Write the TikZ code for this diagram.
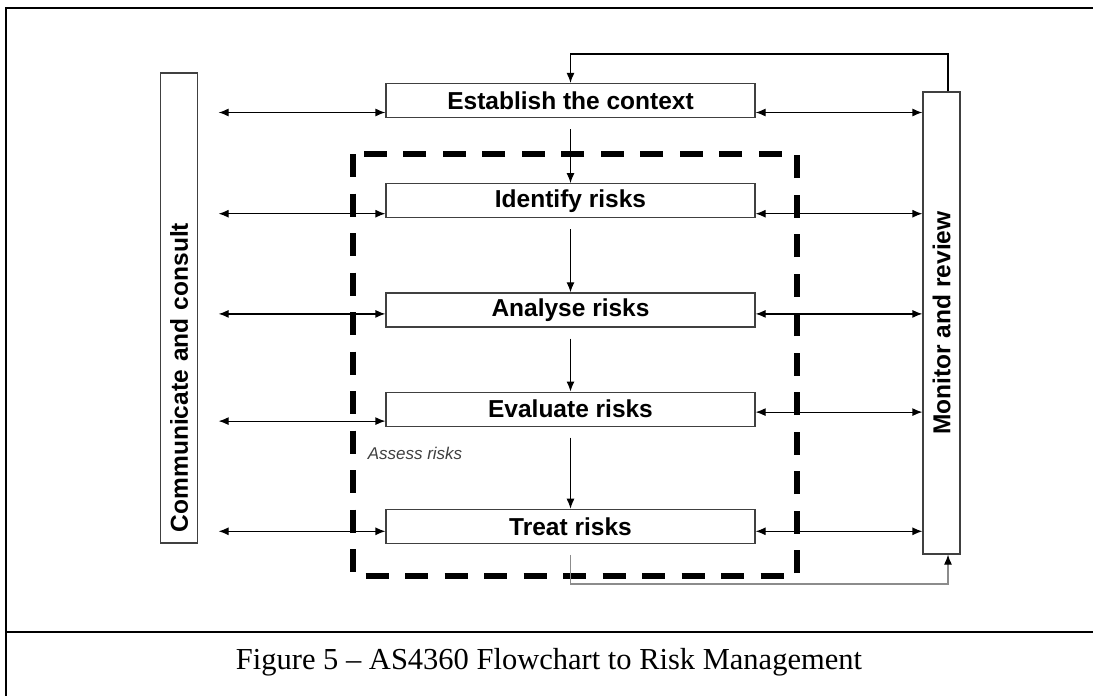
\documentclass[tikz,border=0pt]{standalone}
\usepackage{fontspec}
\setmainfont{Liberation Serif}
\setsansfont{Liberation Sans}
\usepackage{tikz}
\usetikzlibrary{positioning, arrows.meta}
\tikzstyle{stage} = [rectangle, minimum width=369pt, minimum height=34pt, inner sep=0pt, text centered, draw=black!75, line width=1.2pt, font=\sffamily\bfseries\fontsize{24.5}{29}\selectfont]
\tikzstyle{sidebar} = [rectangle, rotate=90, minimum height=37pt, draw=black!75, line width=1.2pt, font=\sffamily\bfseries\fontsize{24.5}{29}\selectfont]
\tikzstyle{arrow} = [line width=1.2pt, -{Latex[length=10pt,width=8pt]}]
\tikzstyle{darrow} = [line width=1.2pt, {Latex[length=10pt,width=8pt]}-{Latex[length=10pt,width=8pt]}]
\tikzstyle{backarrow} = [line width=1.2pt, draw=black!45, -{Latex[length=10pt,width=8pt,black]}]

\begin{document}
\begin{tikzpicture}[x=1pt, y=-1pt]
\useasboundingbox (0,0) rectangle (1093,696);
\draw [line width=1.8pt] (1093,8) -- (6,8) -- (6,696);
\draw [line width=1.8pt] (6,632) -- (1093,632);
\node (est) [stage] at (570.5,100.5) {Establish the context};
\node (ident) [stage, below=65pt of est] {Identify risks};
\node (anal) [stage, below=74pt of ident] {Analyse risks};
\node (eval) [stage, below=64pt of anal] {Evaluate risks};
\node (treat) [stage, below=82pt of eval] {Treat risks};
\node (comm) [sidebar, minimum width=470pt, text width=448pt, inner xsep=11pt, align=left] at (179,308) {Communicate and consult};
\node (mon) [sidebar, minimum width=462pt] at (941.5,323) {Monitor and review};
\draw [line width=5.5pt, dash pattern=on 23pt off 16.5pt] (353,154) rectangle (797,576);
\node (assess) [font=\sffamily\itshape\fontsize{17}{20}\selectfont, text=black!75] at (415,453) {Assess risks};
\node (caption) [anchor=base, font=\fontsize{30.5}{36}\selectfont] at (549,669) {Figure 5 – AS4360 Flowchart to Risk Management};
\coordinate (fbtop) at (570.5,54);
\coordinate (fbbot) at (570.5,584);
\draw [arrow] ([xshift=6.5pt]mon.east) |- (fbtop) -- (est);
\draw [arrow, shorten <=11pt] (est) -- (ident);
\draw [arrow, shorten <=11pt] (ident) -- (anal);
\draw [arrow, shorten <=11pt] (anal) -- (eval);
\draw [arrow, shorten <=11pt] (eval) -- (treat);
\draw [backarrow, shorten <=11pt] (treat) -- (fbbot) -| ([xshift=6.5pt]mon.west);
\foreach \b/\dl/\dr in {est/12/12, ident/13/13, anal/4/4, eval/12/3, treat/5/5} {
  \coordinate (lft) at ([yshift=-\dl pt]\b.west);
  \coordinate (rgt) at ([yshift=-\dr pt]\b.east);
  \draw [darrow, shorten >=20.5pt] (lft) -- (lft -| comm.south);
  \draw [darrow] (rgt) -- (rgt -| mon.north);
}
\end{tikzpicture}
\end{document}
